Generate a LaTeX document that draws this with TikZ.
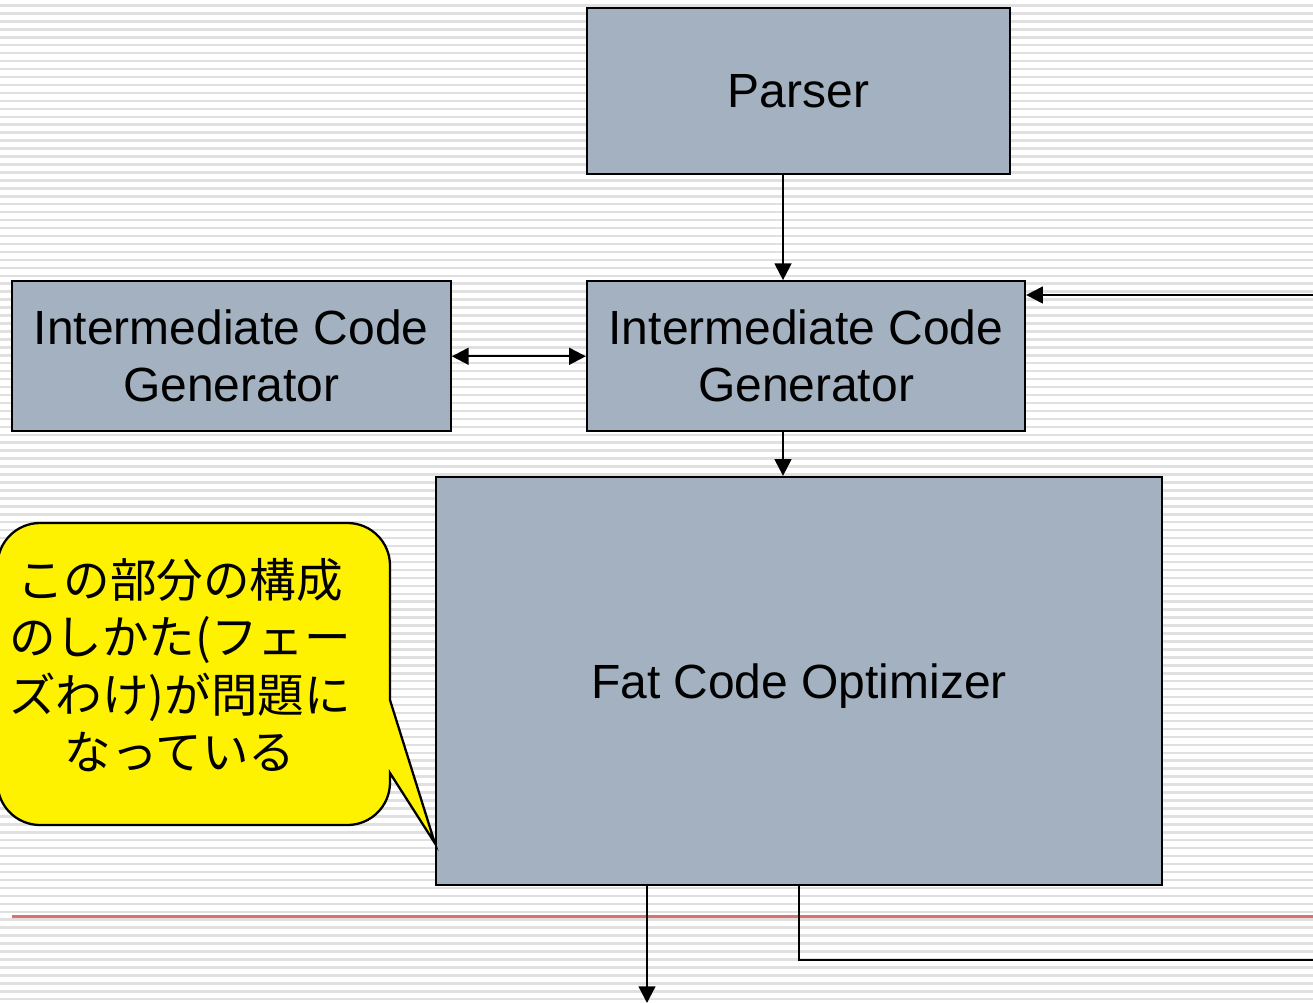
\documentclass[tikz,border=0pt]{standalone}
\usepackage{fontspec}
\setmainfont{Liberation Sans}
\newfontfamily\jafont{Noto Sans CJK JP}
\usetikzlibrary{arrows.meta,positioning}
\definecolor{boxgray}{RGB}{163,177,192}
\definecolor{rulegray}{RGB}{224,224,224}
\definecolor{marginred}{RGB}{220,112,112}

\begin{document}
\begin{tikzpicture}[>={Triangle[length=9.5pt,width=9.5pt]},
	block/.style={draw,line width=1.3pt,fill=boxgray,inner sep=0pt,align=center,
		font=\fontsize{27.3}{32.4}\selectfont},
	conn/.style={line width=1.3pt}]
		\def\W{26.26}
		\def\H{20.06}
		\useasboundingbox (0,0) rectangle (\W,-\H);
		% ruled paper and margin line
		\foreach \k in {0,...,125}
			\draw[rulegray,line width=0.05cm] (0,-0.11-0.159*\k) -- (\W,-0.11-0.159*\k);
		\draw[marginred,line width=0.05cm] (0.24,-18.33) -- (\W,-18.33);
		% blocks
		\node[block,minimum width=8.46cm,minimum height=3.32cm] (parser) at (15.97,-1.82) {Parser};
		\node[block,minimum width=8.76cm,minimum height=3cm,below=2.1cm of parser.south west,anchor=north west] (icgr) {Intermediate Code\\Generator};
		\node[block,minimum width=8.78cm,minimum height=3cm,left=2.68cm of icgr] (icgl) {Intermediate Code\\Generator};
		\node[block,minimum width=14.52cm,minimum height=8.16cm,text depth=-0.2cm] (fat) at (15.98,-13.62) {Fat Code Optimizer};
		% free ends
		\coordinate (xa) at (15.66,0);
		\coordinate (back) at (\W,-5.9);
		\coordinate (out) at (12.94,-\H);
		\coordinate (loop) at (\W,-19.2);
		\draw[conn,->] (parser.south -| xa) -- (icgr.north -| xa);
		\draw[conn,<->] (icgl.east) -- (icgr.west);
		\draw[conn,->] (icgr.south -| xa) -- (fat.north -| xa);
		\draw[conn,->] (back) -- (back -| icgr.east);
		\draw[conn,->] (fat.south -| out) -- (out);
		\draw[conn] (fat.south) -- (fat.south |- loop) -- (loop);
		% callout
		\coordinate (tip) at ([yshift=0.86cm]fat.south west);
		\draw[line width=1.3pt,fill=yellow] (7.8,-14.0) [rounded corners=0.85cm] -- (7.8,-10.46) -- (-0.05,-10.46)
			-- (-0.05,-16.5) -- (7.8,-16.5) [sharp corners] -- (7.8,-15.46) -- (tip) -- cycle;
		\node[font=\jafont\fontsize{26.5}{32.7}\selectfont,align=center] (note) at (3.6,-13.3)
			{この部分の構成\\のしかた(フェー\\ズわけ)が問題に\\なっている};
\end{tikzpicture}
\end{document}
